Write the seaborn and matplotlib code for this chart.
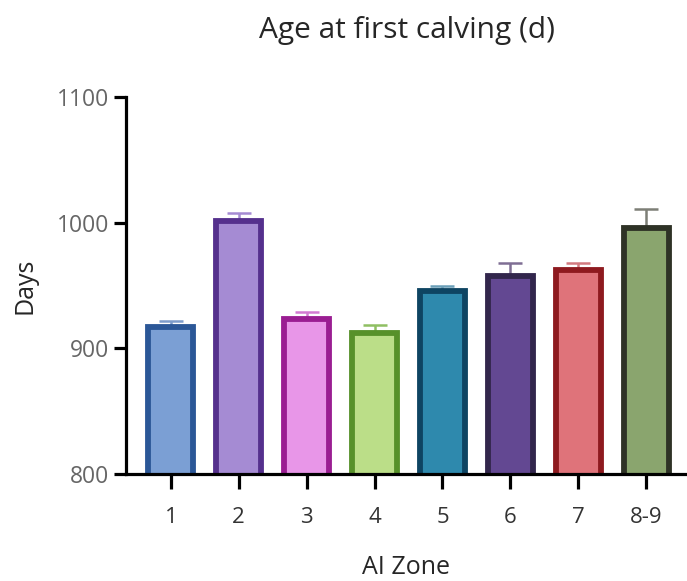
import seaborn as sns
import matplotlib.pyplot as plt
import pandas as pd

zones = ['1', '2', '3', '4', '5', '6', '7', '8-9']
days = [917, 1001, 923, 912, 946, 958, 962, 996]
sem = [5, 7, 6, 7, 4, 10, 6, 15]

fills = ['#7B9FD4', '#A58BD3', '#E896E8', '#BBDE88', '#2E89AD', '#634892', '#DF737A', '#8AA56E']
edges = ['#2B5797', '#55308D', '#9A1D92', '#57912A', '#0E4462', '#32264C', '#8E1A1F', '#2E3226']
errcols = ['#7D9CCB', '#A58BD3', '#D27BD2', '#8FBF62', '#6A9FB8', '#7F6E94', '#D27A80', '#7D7F76']

df = pd.DataFrame({'zone': zones, 'days': days})

sns.set_style('ticks')
plt.rcParams['font.family'] = ['Open Sans', 'DejaVu Sans']

fig = plt.figure(figsize=(6.87, 5.81), dpi=100)
ax = fig.add_axes([0.1834, 0.184, 0.8166, 0.649])

sns.barplot(data=df, x='zone', y='days', hue='zone', palette=fills, legend=False,
            width=0.66, saturation=1, ax=ax, zorder=2)

for i, bar in enumerate(ax.patches):
    bar.set_edgecolor(edges[i])
    bar.set_linewidth(4.2)
    bar.set_joinstyle('miter')
    # upper error bar only
    ax.errorbar(i, days[i], yerr=[[0], [sem[i]]], color=errcols[i], capsize=8.5,
                elinewidth=1.8, capthick=1.8, zorder=1)

ax.set_ylim(800, 1100)
ax.set_xlim(-0.66, 7.6)
ax.set_yticks([800, 900, 1000, 1100])

for s in ['top', 'right']:
    ax.spines[s].set_visible(False)
for s in ['left', 'bottom']:
    ax.spines[s].set_linewidth(2.3)
    ax.spines[s].set_color('black')

ax.tick_params(axis='y', length=9, width=2.3, color='black', labelsize=16.5,
               labelcolor='#666666', pad=3)
ax.tick_params(axis='x', length=11, width=2.3, color='black', labelsize=16,
               labelcolor='#333333', pad=13)

ax.set_xlabel('AI Zone', fontsize=18, labelpad=19)
ax.set_ylabel('Days', fontsize=18, labelpad=14)
fig.suptitle('Age at first calving (d)', fontsize=21.5, x=0.593, y=0.972)

fig.savefig('out.png', dpi=100)
